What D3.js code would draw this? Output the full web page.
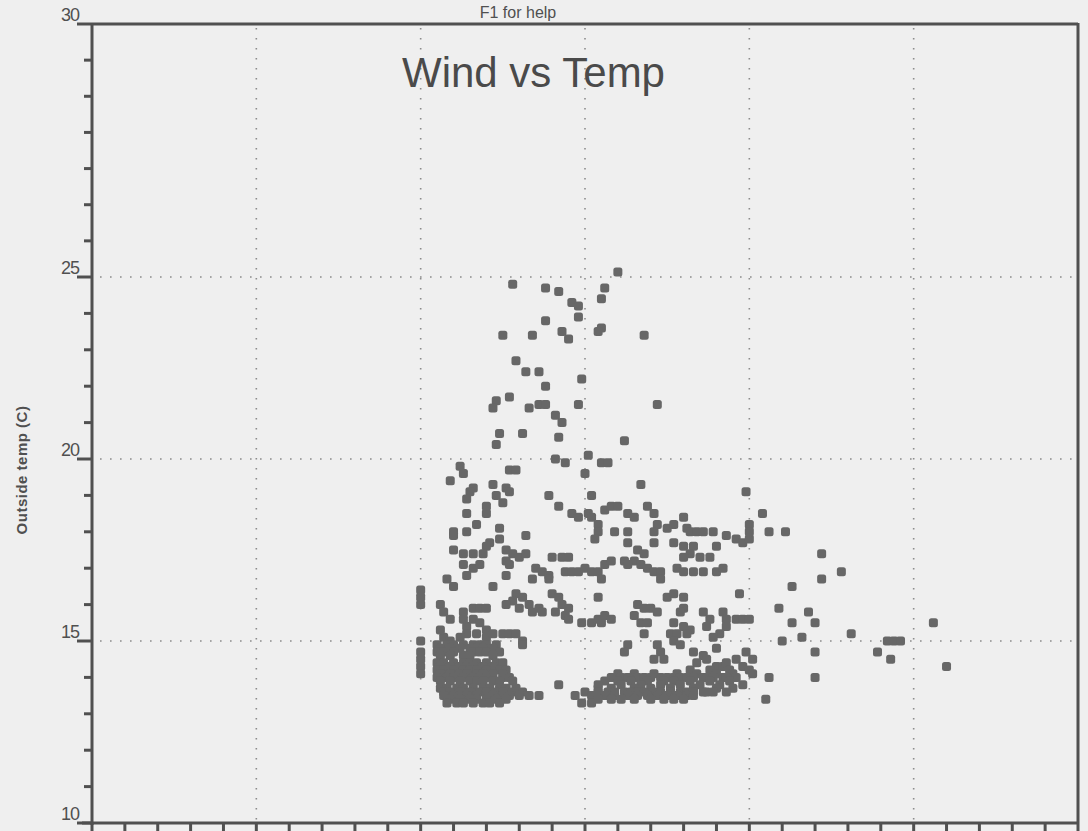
<!DOCTYPE html>
<html><head><meta charset="utf-8">
<script src="https://cdn.jsdelivr.net/npm/d3@7"></script>
<style>html,body{margin:0;padding:0;background:#efefef;overflow:hidden}svg{display:block}</style>
</head><body><svg id="chart" width="1088" height="831"></svg>
<script>
// ---- data: [wind speed, outside temp (C)] readings ----
const windTempReadings = [
 [12.8,24.8],[13.8,24.7],[14.2,24.6],[14.6,24.3],[14.8,24.2],[15.5,24.4],[15.6,24.7],[16.0,25.1],
 [13.8,23.8],[14.8,23.9],[15.5,23.6],[15.4,23.5],[16.8,23.4],[12.5,23.4],[13.4,23.4],[14.3,23.5],[14.5,23.3],
 [12.9,22.7],[13.2,22.4],[13.6,22.4],[13.8,22.0],[14.9,22.2],
 [12.7,21.7],[12.3,21.6],[12.2,21.4],[13.3,21.4],[13.6,21.5],[13.8,21.5],[14.1,21.2],[14.3,21.0],[14.8,21.5],[17.2,21.5],
 [13.1,20.7],[12.4,20.7],[12.3,20.4],[14.2,20.6],[16.2,20.5],[15.1,20.1],[14.1,20.0],[14.4,19.9],[15.5,19.9],[15.7,19.9],
 [11.2,19.8],[11.3,19.6],[10.9,19.4],[12.7,19.7],[12.9,19.7],[15.0,19.6],[11.6,19.2],[12.2,19.3],[12.6,19.2],[16.7,19.3],
 [19.9,19.1],[20.4,18.5],
 [11.5,19.1],[11.4,18.9],[12.7,19.1],[12.3,19.0],[12.5,18.8],[12.0,18.7],[12.0,18.5],[11.4,18.5],[11.7,18.2],[11.4,18.0],
 [11.0,18.0],[11.0,17.9],[11.0,17.5],[12.4,18.1],[12.4,17.8],[12.1,17.7],[12.0,17.6],[12.6,17.5],[12.8,17.4],[13.0,17.3],
 [13.2,17.4],[11.3,17.4],[11.6,17.4],[11.9,17.4],[11.3,17.1],[11.6,17.0],[11.8,17.1],[11.4,16.8],[12.6,17.2],[12.7,17.1],
 [12.6,16.8],[13.2,17.9],[13.9,19.0],[14.2,18.7],[14.6,18.5],[14.8,18.4],[15.1,18.5],[15.2,18.4],[15.4,18.2],[15.4,18.0],
 [15.3,17.8],[15.2,19.0],[14.0,17.3],[14.3,17.3],[14.5,17.3],[13.5,17.0],[13.7,16.9],[13.9,16.8],[13.9,16.7],[13.4,16.7],
 [14.4,16.9],[14.6,16.9],[14.8,16.9],[15.0,17.0],[15.2,16.9],[15.4,16.9],[15.5,16.7],[10.8,16.7],[11.0,16.5],[12.2,16.5],
 [10.0,16.4],[10.0,16.2],[10.0,16.0],[12.9,16.3],[13.1,16.2],[12.8,16.1],[12.6,16.0],[13.0,15.9],[13.3,16.0],[13.4,15.8],
 [13.6,15.9],[13.7,15.8],[14.0,16.3],[14.2,16.2],[14.3,16.0],[14.5,15.9],[14.1,15.8],[14.4,15.7],[14.5,15.6],[15.4,16.2],
 [10.6,16.0],[10.7,15.8],[10.9,15.6],[14.9,15.5],[15.2,15.5],[15.5,15.5],
 [11.3,15.8],[11.6,15.9],[11.8,15.9],[12.0,15.9],[11.3,15.6],[11.6,15.6],[11.4,15.4],[11.8,15.5],[12.0,15.3],[11.4,15.2],
 [11.7,15.2],[12.0,15.1],[12.2,15.2],[12.5,15.2],[12.7,15.2],[12.9,15.2],[13.1,15.0],[13.1,14.9],
 [10.7,15.1],[10.9,15.0],[11.2,15.1],[10.6,15.3],
 [10.5,14.9],[10.8,14.9],[11.0,14.9],[11.3,14.9],[11.6,14.9],[11.8,14.9],[12.0,14.9],[12.3,14.9],
 [10.6,14.8],[10.9,14.8],[11.2,14.8],[11.5,14.8],[11.7,14.8],[11.9,14.8],[12.2,14.8],
 [10.5,14.7],[10.7,14.7],[11.0,14.7],[11.6,14.7],[11.8,14.7],[12.0,14.7],[12.4,14.7],
 [10.6,14.6],[10.9,14.6],[11.3,14.6],[11.5,14.6],[12.2,14.6],
 [10.5,14.4],[10.7,14.4],[11.0,14.4],[11.3,14.4],[11.5,14.4],[11.7,14.4],[12.0,14.4],[12.3,14.4],[12.5,14.4],
 [10.6,14.3],[10.9,14.3],[11.2,14.3],[11.4,14.3],[11.6,14.3],[11.9,14.3],[12.2,14.3],
 [10.5,14.2],[10.7,14.2],[11.0,14.2],[11.3,14.2],[11.5,14.2],[11.7,14.2],[12.0,14.2],[12.4,14.2],[12.6,14.2],
 [10.6,14.1],[10.9,14.1],[11.2,14.1],[11.4,14.1],[11.7,14.1],[11.9,14.1],[12.2,14.1],[12.5,14.1],
 [10.5,14.0],[10.8,14.0],[11.0,14.0],[11.3,14.0],[11.6,14.0],[11.8,14.0],[12.0,14.0],[12.5,14.0],[12.7,14.0],
 [10.6,13.9],[10.9,13.9],[11.2,13.9],[11.5,13.9],[11.7,13.9],[11.9,13.9],[12.2,13.9],[12.4,13.9],[12.8,13.9],
 [10.6,13.7],[10.8,13.7],[11.1,13.7],[11.3,13.7],[11.6,13.7],[11.9,13.7],[12.1,13.7],[12.4,13.7],[12.6,13.7],[12.9,13.7],
 [10.7,13.6],[10.9,13.6],[11.2,13.6],[11.5,13.6],[11.8,13.6],[12.0,13.6],[12.3,13.6],[12.5,13.6],[12.8,13.6],[13.1,13.6],
 [10.7,13.5],[11.0,13.5],[11.2,13.5],[11.4,13.5],[11.7,13.5],[12.0,13.5],[12.2,13.5],[12.5,13.5],[12.7,13.5],[13.0,13.5],
 [13.3,13.5],[13.6,13.5],
 [10.9,13.4],[11.2,13.4],[11.5,13.4],[11.7,13.4],[12.0,13.4],[12.3,13.4],[12.6,13.4],
 [10.8,13.3],[11.1,13.3],[11.3,13.3],[11.6,13.3],[11.9,13.3],[12.1,13.3],[12.4,13.3],
 [10.0,15.0],[10.0,14.7],[10.0,14.5],[10.0,14.3],[10.0,14.1],[14.2,13.8],
 [14.7,13.5],[15.0,13.6],[15.2,13.5],[15.4,13.7],[14.9,13.3],[15.2,13.3],
 [15.6,18.6],[15.8,18.7],[16.0,18.7],[16.3,18.5],[16.5,18.4],[15.9,18.0],[16.3,18.0],[16.3,17.7],[16.9,18.7],[17.1,18.5],
 [17.2,18.2],[17.1,18.0],[17.1,17.7],[17.5,18.1],[17.7,18.2],[18.0,18.4],[18.1,18.1],[18.2,18.0],[18.4,18.0],[18.6,18.0],
 [18.9,18.0],[19.3,17.9],[19.6,17.8],[19.8,17.7],[20.0,17.8],[20.0,18.2],[20.0,18.0],[19.0,17.6],[17.7,17.7],[18.0,17.6],
 [18.3,17.6],[18.2,17.4],[18.5,17.3],[18.8,17.3],[18.0,17.3],[16.6,17.5],[16.8,17.4],[16.5,17.2],[16.2,17.2],[16.3,17.1],
 [16.7,17.1],[16.9,17.0],[17.1,16.9],[17.3,16.9],[17.3,16.7],[17.8,17.0],[18.0,16.9],[18.3,16.9],[18.6,16.9],[19.0,16.9],
 [19.2,17.0],[15.6,17.1],[15.8,17.2],[19.7,16.3],[16.6,16.0],[16.8,15.9],[17.0,15.9],[17.2,15.8],[16.5,15.7],[16.7,15.5],
 [16.9,15.5],[17.5,16.2],[17.7,16.3],[18.0,16.2],[18.0,15.9],[17.9,15.8],[15.4,15.6],[15.6,15.7],[15.8,15.6],[18.6,15.8],
 [18.8,15.6],[18.7,15.4],[19.2,15.8],[19.3,15.6],[19.6,15.6],[19.8,15.6],[20.0,15.6],[19.3,15.4],[19.1,15.2],[18.9,15.1],
 [19.0,14.8],[17.7,15.5],[18.0,15.4],[18.2,15.3],[17.6,15.2],[17.8,15.2],[18.1,15.2],[17.7,15.0],[17.9,14.9],[16.8,15.2],
 [16.3,14.9],[16.2,14.7],[17.2,14.9],[17.3,14.7],[17.1,14.5],[17.4,14.5],[18.3,14.7],[18.6,14.6],[18.7,14.5],[18.4,14.4],
 [19.0,14.3],[19.2,14.3],[19.3,14.4],[19.6,14.5],[19.8,14.3],[19.9,14.7],[20.1,14.5],[20.0,14.2],
 [18.2,14.2],[18.8,14.2],[19.4,14.2],
 [16.0,14.1],[16.5,14.1],[17.1,14.1],[17.8,14.1],[18.4,14.1],[19.0,14.1],[19.5,14.1],
 [15.8,14.0],[16.1,14.0],[16.3,14.0],[16.6,14.0],[16.8,14.0],[17.0,14.0],[17.3,14.0],[17.5,14.0],[17.7,14.0],[17.9,14.0],
 [18.1,14.0],[18.3,14.0],[18.6,14.0],[18.7,14.0],[18.9,14.0],[19.2,14.0],[19.3,14.0],[19.6,14.0],
 [15.6,13.9],[16.0,13.9],[16.4,13.9],[16.9,13.9],[17.4,13.9],[17.7,13.9],[18.2,13.9],[18.8,13.9],[19.4,13.9],
 [15.4,13.8],[16.1,13.8],[16.7,13.8],[17.3,13.8],[17.9,13.8],[18.5,13.8],[19.1,13.8],[19.8,13.8],[20.1,14.1],
 [15.8,13.7],[16.5,13.7],[17.0,13.7],[17.6,13.7],[18.3,13.7],[19.0,13.7],[19.5,13.7],
 [15.4,13.6],[15.7,13.6],[15.9,13.6],[16.2,13.6],[16.4,13.6],[16.6,13.6],[16.8,13.6],[17.1,13.6],[17.3,13.6],[17.6,13.6],
 [17.9,13.6],[18.1,13.6],[18.3,13.6],[18.6,13.6],[18.7,13.6],[18.9,13.6],[19.3,13.6],
 [15.6,13.5],[15.9,13.5],[16.3,13.5],[16.6,13.5],[16.9,13.5],[17.2,13.5],[17.5,13.5],[17.8,13.5],[18.1,13.5],[18.3,13.5],
 [15.4,13.4],[15.8,13.4],[16.1,13.4],[16.5,13.4],[17.0,13.4],[17.4,13.4],[17.7,13.4],[18.0,13.4],
 [20.6,18.0],[21.1,18.0],[21.3,16.5],[20.9,15.9],[21.3,15.5],[21.0,15.0],[20.6,14.0],[20.5,13.4],[22.2,17.4],[22.8,16.9],
 [22.2,16.7],[21.8,15.8],[22.0,15.5],[23.1,15.2],[21.6,15.1],[22.0,14.7],[24.2,15.0],[24.4,15.0],[24.6,15.0],[23.9,14.7],
 [24.3,14.5],[25.6,15.5],[26.0,14.3],[22.0,14.0]
];
const xDomain = [0, 30];
const xMinorStep = 1;
const xGridValues = [5, 10, 15, 20, 25];
const yBreaks = [10, 25, 30];          // axis is drawn with a stretched top segment
const yGridValues = [15, 20, 25];
const yTickLabels = [10, 15, 20, 25, 30];
const yTopSegmentDivisions = 7;
const titleText = "Wind vs Temp";
const helpText = "F1 for help";
const yAxisTitle = "Outside temp (C)";

// ---- layout ----
const L = 92, R = 1078, T = 24, B = 823;
const svg = d3.select("#chart");
const x = d3.scaleLinear().domain(xDomain).range([L, R]);
const y = d3.scaleLinear().domain(yBreaks).range([B, 277, T]);
const ink = "#505050";
const font = "'Liberation Sans', Arial, sans-serif";

svg.append("rect").attr("width",1088).attr("height",831).attr("fill","#efefef");

// grid
const grid = svg.append("g").attr("stroke","#8c8c8c").attr("stroke-width",1.6)
  .attr("stroke-dasharray","1.6,8.4").attr("fill","none");
grid.selectAll("line.h").data(yGridValues).join("line").attr("class","h")
  .attr("x1",L+8).attr("x2",R).attr("y1",d=>y(d)).attr("y2",d=>y(d));
grid.selectAll("line.v").data(xGridValues).join("line").attr("class","v")
  .attr("x1",d=>x(d)).attr("x2",d=>x(d)).attr("y1",T+4).attr("y2",B);

// points
svg.append("g").selectAll("rect").data(windTempReadings).join("rect")
  .attr("x",d=>x(d[0])-4.5).attr("y",d=>y(d[1])-4.5)
  .attr("width",9).attr("height",9).attr("rx",2.5)
  .attr("fill","#676767");

// y axis minor ticks
const yMinor = d3.range(yBreaks[0]+1, yBreaks[1]).filter(v=>v%5!==0)
  .concat(d3.range(1, yTopSegmentDivisions).map(k=>yBreaks[1]+(yBreaks[2]-yBreaks[1])*k/yTopSegmentDivisions));
const axisG = svg.append("g").attr("stroke",ink).attr("stroke-width",3).attr("fill","none");
axisG.selectAll("line.ym").data(yMinor).join("line").attr("class","ym")
  .attr("x1",L-8).attr("x2",L).attr("y1",d=>y(d)).attr("y2",d=>y(d));
axisG.selectAll("line.yM").data(yTickLabels).join("line").attr("class","yM")
  .attr("x1",L-15).attr("x2",L).attr("y1",d=>y(d)).attr("y2",d=>y(d));
// frame
axisG.append("line").attr("x1",L).attr("x2",L).attr("y1",T).attr("y2",B+2);
axisG.append("line").attr("x1",L).attr("x2",R).attr("y1",T).attr("y2",T);
axisG.append("line").attr("x1",R).attr("x2",R).attr("y1",T-1).attr("y2",B);
axisG.append("line").attr("x1",L-10).attr("x2",R).attr("y1",B).attr("y2",B);
// x ticks
const xTicks = d3.range(xDomain[0], xDomain[1]+0.001, xMinorStep);
axisG.selectAll("line.xt").data(xTicks).join("line").attr("class","xt")
  .attr("x1",d=>x(d)).attr("x2",d=>x(d)).attr("y1",B).attr("y2",B+12);

// y labels
svg.append("g").selectAll("text").data(yTickLabels).join("text")
  .attr("x",L-13).attr("y",d=>y(d)-3).attr("text-anchor","end")
  .attr("font-family",font).attr("font-size",18).attr("fill",ink)
  .attr("letter-spacing","-1").text(d=>d);

// y axis title
svg.append("text").attr("transform","translate(27,470) rotate(-90)")
  .attr("text-anchor","middle").attr("font-family",font).attr("font-weight","bold")
  .attr("font-size",15).attr("letter-spacing","0.5").attr("fill",ink).text(yAxisTitle);

// title & help
svg.append("text").attr("x",402).attr("y",87).attr("font-family",font)
  .attr("font-size",42).attr("fill","#4a4a4a").text(titleText);
svg.append("text").attr("x",518).attr("y",18).attr("text-anchor","middle").attr("font-family",font)
  .attr("font-size",16).attr("fill",ink).text(helpText);
</script></body></html>
